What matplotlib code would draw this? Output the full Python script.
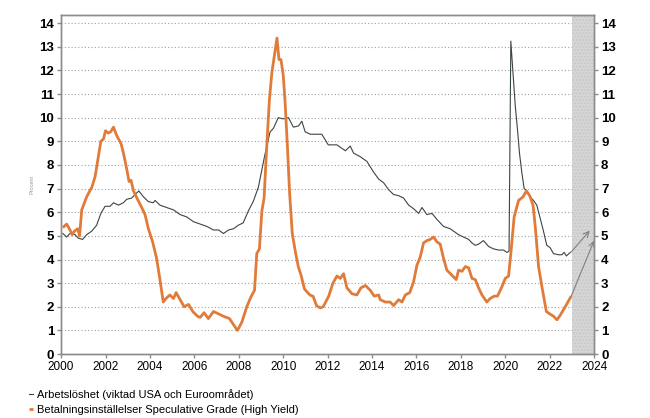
import matplotlib
matplotlib.use("Agg")
import matplotlib.pyplot as plt

plt.rcParams['font.family'] = ['Liberation Sans', 'DejaVu Sans']

# Arbetslöshet (viktad USA och Euroområdet)
unemp_x = [2000.08, 2000.25, 2000.40, 2000.63, 2000.78, 2000.97, 2001.15, 2001.38, 2001.60, 2001.79,
           2001.98, 2002.20, 2002.36, 2002.58, 2002.80, 2002.96, 2003.18, 2003.33, 2003.50, 2003.71,
           2003.93, 2004.15, 2004.23, 2004.45, 2004.75, 2005.06, 2005.36, 2005.66, 2005.96, 2006.26,
           2006.56, 2006.86, 2007.09, 2007.31, 2007.54, 2007.76, 2007.98, 2008.20, 2008.43, 2008.65,
           2008.88, 2009.03, 2009.18, 2009.41, 2009.56, 2009.78, 2010.00, 2010.24, 2010.46, 2010.69,
           2010.84, 2010.99, 2011.22, 2011.52, 2011.74, 2012.03, 2012.42, 2012.65, 2012.80, 2013.02,
           2013.17, 2013.47, 2013.77, 2014.07, 2014.30, 2014.52, 2014.75, 2014.97, 2015.20, 2015.42,
           2015.65, 2015.87, 2016.10, 2016.25, 2016.47, 2016.70, 2016.92, 2017.22, 2017.52, 2017.90,
           2018.12, 2018.35, 2018.50, 2018.65, 2018.80, 2019.02, 2019.25, 2019.47, 2019.70, 2019.92,
           2020.07, 2020.17, 2020.25, 2020.34, 2020.45, 2020.55, 2020.64, 2020.75, 2020.85, 2020.97,
           2021.12, 2021.27, 2021.42, 2021.57, 2021.72, 2021.87, 2022.02, 2022.17, 2022.40, 2022.55,
           2022.65, 2022.75, 2022.93]
unemp_y = [5.10, 4.95, 5.10, 5.05, 4.90, 4.85, 5.05, 5.20, 5.45, 5.95,
           6.25, 6.25, 6.40, 6.30, 6.40, 6.55, 6.60, 6.75, 6.90, 6.65,
           6.45, 6.40, 6.50, 6.30, 6.20, 6.10, 5.90, 5.80, 5.60, 5.50,
           5.40, 5.25, 5.25, 5.10, 5.25, 5.30, 5.45, 5.55, 6.05, 6.45,
           7.05, 7.75, 8.45, 9.40, 9.55, 10.00, 9.95, 10.00, 9.60, 9.65,
           9.85, 9.40, 9.30, 9.30, 9.30, 8.85, 8.85, 8.70, 8.60, 8.80,
           8.50, 8.35, 8.15, 7.70, 7.40, 7.25, 6.95, 6.75, 6.70, 6.60,
           6.30, 6.15, 5.95, 6.20, 5.90, 5.95, 5.70, 5.40, 5.30, 5.05,
           4.95, 4.85, 4.70, 4.60, 4.65, 4.80, 4.55, 4.45, 4.40, 4.40,
           4.30, 4.35, 13.24, 12.00, 10.50, 9.50, 8.50, 7.65, 7.00, 6.90,
           6.65, 6.50, 6.30, 5.75, 5.20, 4.60, 4.50, 4.25, 4.20, 4.20,
           4.30, 4.15, 4.30]

# Betalningsinställelser Speculative Grade (High Yield)
default_x = [2000.08, 2000.25, 2000.40, 2000.50, 2000.60, 2000.75, 2000.83, 2000.93, 2001.15, 2001.38,
             2001.53, 2001.65, 2001.79, 2001.91, 2002.00, 2002.12, 2002.23, 2002.36, 2002.50, 2002.70,
             2002.82, 2002.96, 2003.06, 2003.15, 2003.26, 2003.44, 2003.63, 2003.78, 2003.93, 2004.12,
             2004.30, 2004.45, 2004.60, 2004.72, 2004.90, 2005.06, 2005.18, 2005.36, 2005.54, 2005.74,
             2005.93, 2006.14, 2006.26, 2006.44, 2006.63, 2006.86, 2007.09, 2007.31, 2007.58, 2007.76,
             2007.94, 2008.14, 2008.36, 2008.54, 2008.71, 2008.81, 2008.93, 2009.04, 2009.14, 2009.26,
             2009.38, 2009.49, 2009.60, 2009.72, 2009.81, 2009.90, 2010.00, 2010.08, 2010.19, 2010.29,
             2010.41, 2010.56, 2010.68, 2010.80, 2010.96, 2011.20, 2011.35, 2011.50, 2011.67, 2011.80,
             2012.05, 2012.24, 2012.42, 2012.57, 2012.72, 2012.87, 2013.10, 2013.32, 2013.50, 2013.70,
             2013.92, 2014.10, 2014.30, 2014.37, 2014.60, 2014.82, 2014.97, 2015.20, 2015.35, 2015.50,
             2015.70, 2015.87, 2016.02, 2016.17, 2016.32, 2016.47, 2016.62, 2016.77, 2016.92, 2017.07,
             2017.22, 2017.37, 2017.58, 2017.79, 2017.90, 2018.05, 2018.20, 2018.35, 2018.50, 2018.65,
             2018.80, 2018.95, 2019.17, 2019.32, 2019.50, 2019.65, 2019.85, 2020.00, 2020.15, 2020.25,
             2020.40, 2020.60, 2020.80, 2020.95, 2021.10, 2021.25, 2021.35, 2021.50, 2021.65, 2021.85,
             2022.00, 2022.17, 2022.33, 2022.48, 2022.70, 2022.97]
default_y = [5.35, 5.50, 5.25, 5.05, 5.20, 5.30, 5.00, 6.10, 6.65, 7.05,
             7.50, 8.20, 9.00, 9.10, 9.45, 9.35, 9.40, 9.60, 9.25, 8.90,
             8.45, 7.80, 7.30, 7.35, 6.90, 6.55, 6.20, 5.90, 5.30, 4.75,
             4.05, 3.15, 2.20, 2.35, 2.50, 2.35, 2.60, 2.30, 2.00, 2.10,
             1.80, 1.60, 1.55, 1.75, 1.50, 1.80, 1.70, 1.60, 1.50, 1.25,
             1.00, 1.35, 2.00, 2.40, 2.70, 4.25, 4.45, 6.05, 6.60, 8.80,
             10.76, 11.90, 12.60, 13.37, 12.46, 12.46, 11.82, 10.76, 8.80, 6.80,
             5.10, 4.27, 3.70, 3.35, 2.75, 2.50, 2.44, 2.05, 1.95, 2.00,
             2.45, 3.00, 3.30, 3.20, 3.40, 2.80, 2.55, 2.50, 2.80, 2.90,
             2.70, 2.45, 2.50, 2.30, 2.20, 2.20, 2.05, 2.30, 2.20, 2.50,
             2.60, 3.05, 3.75, 4.10, 4.70, 4.80, 4.85, 4.95, 4.75, 4.65,
             4.05, 3.55, 3.35, 3.15, 3.55, 3.50, 3.70, 3.65, 3.20, 3.15,
             2.80, 2.50, 2.20, 2.35, 2.45, 2.45, 2.85, 3.20, 3.30, 4.25,
             5.80, 6.50, 6.65, 6.90, 6.70, 6.30, 5.40, 3.70, 2.85, 1.80,
             1.70, 1.60, 1.45, 1.65, 2.00, 2.45]

# forecast arrows: (start, end) for each series
unemp_arrow = [(2022.95, 4.30), (2023.80, 5.22)]
default_arrow = [(2022.97, 2.45), (2024.00, 4.80)]
forecast_span = [2023, 2024]

labels = ['Arbetslöshet (viktad USA och Euroområdet)',
          'Betalningsinställelser Speculative Grade (High Yield)']
x_ticks = list(range(2000, 2025, 2))
y_ticks = list(range(0, 15))

black = '#3b4640'
orange = '#e07b39'
spine = '#8c8c8c'

fig = plt.figure(figsize=(6.5, 4.18), dpi=100)
ax = fig.add_axes([0.094, 0.153, 0.820, 0.812])

ax.axvspan(forecast_span[0], forecast_span[1], facecolor='#d6d6d6', edgecolor='#c8c8c8',
           hatch='.....', linewidth=0, zorder=1)

for v in y_ticks[1:]:
    ax.axhline(v, color='#a0a0a0', linestyle=(0, (1, 2)), linewidth=0.8, zorder=0)

l1, = ax.plot(unemp_x, unemp_y, color=black, linewidth=0.8, zorder=3)
l2, = ax.plot(default_x, default_y, color=orange, linewidth=2.0, zorder=4,
              solid_capstyle='butt')

for arr in (unemp_arrow, default_arrow):
    ax.annotate('', xy=arr[1], xytext=arr[0],
                arrowprops=dict(arrowstyle='->', color='#808080', lw=0.8,
                                shrinkA=0, shrinkB=0, mutation_scale=10), zorder=5)

ax.set_xlim(2000, 2024)
ax.set_ylim(0, 14.36)
ax.set_xticks(x_ticks)
ax.set_xticklabels([str(t) for t in x_ticks], fontsize=8.5)
ax.set_yticks(y_ticks)
ax.set_yticklabels([str(t) for t in y_ticks], fontsize=9.5, fontweight='bold')

ax2 = ax.twinx()
ax2.set_ylim(ax.get_ylim())
ax2.set_yticks(y_ticks)
ax2.set_yticklabels([str(t) for t in y_ticks], fontsize=9.5, fontweight='bold')

for a in (ax, ax2):
    for s in a.spines.values():
        s.set_color(spine)
        s.set_linewidth(1.0)
    a.tick_params(axis='both', direction='out', length=3, width=1, color=spine, pad=2)

ax.text(-0.055, 0.5, 'Procent', transform=ax.transAxes, rotation=90,
        fontsize=4, color='#999999', ha='center', va='center')

leg = fig.legend([l1, l2], labels, loc='upper left', bbox_to_anchor=(0.045, 0.07),
                 frameon=False, fontsize=8, handlelength=0.35, handletextpad=0.35,
                 labelspacing=0.45, borderaxespad=0, borderpad=0)

fig.savefig('out.png', dpi=100)
